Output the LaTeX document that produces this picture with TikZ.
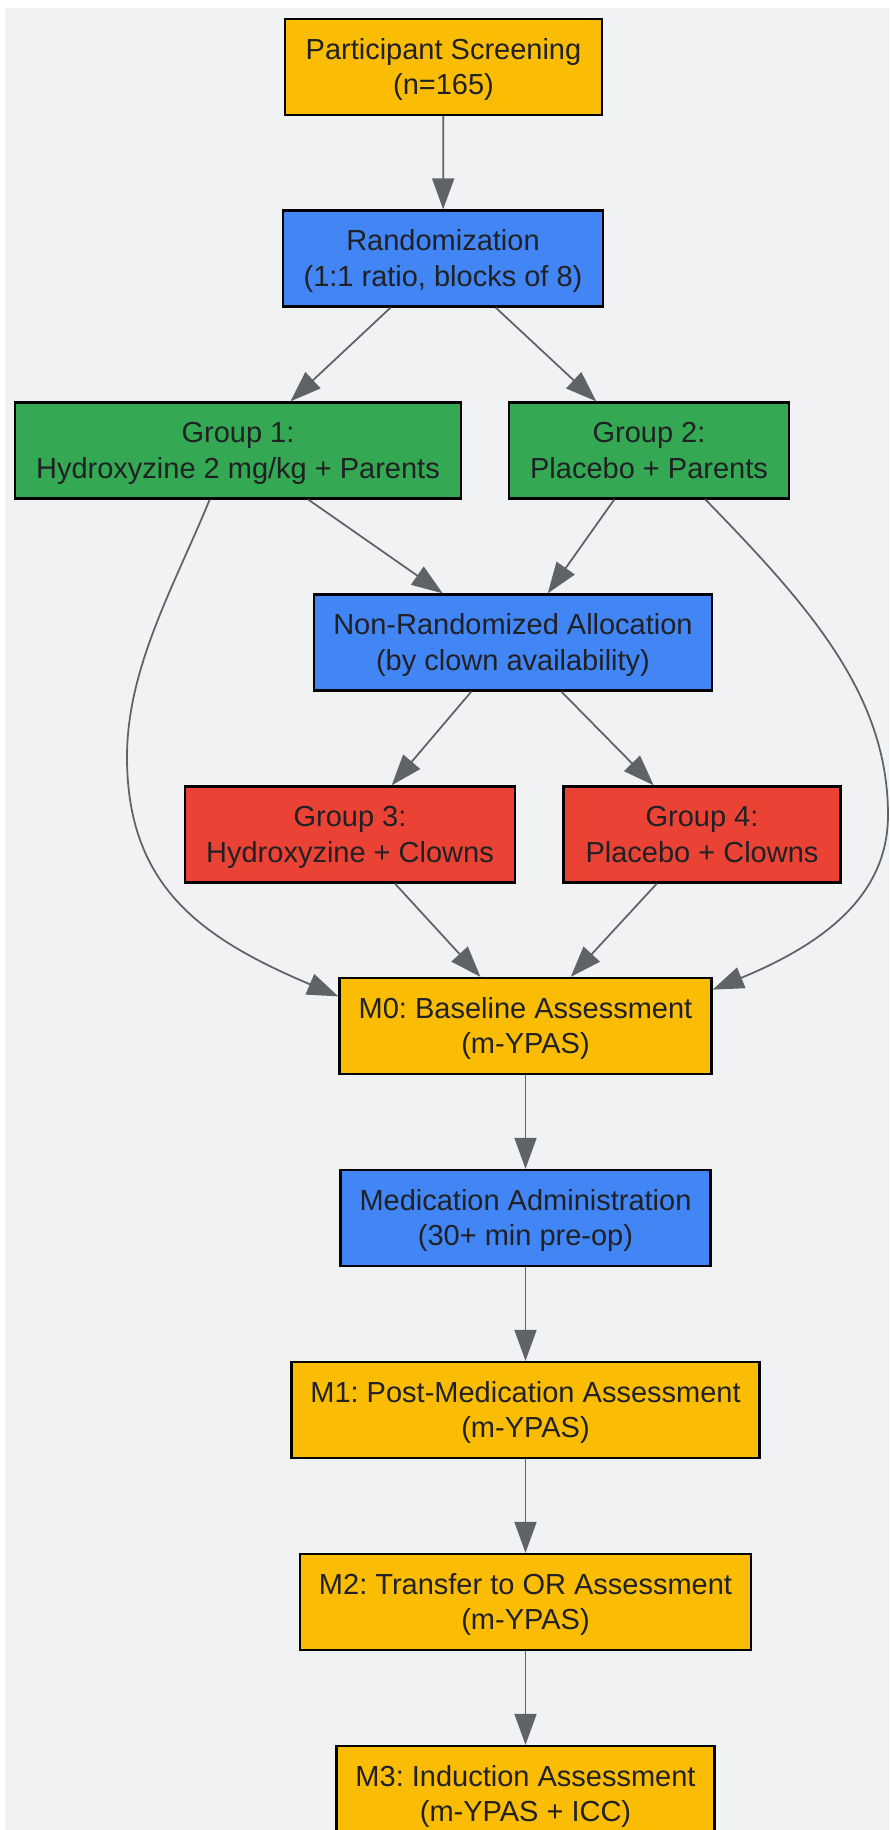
\documentclass[tikz,border=0pt]{standalone}
\usepackage{fontspec}
\setmainfont{Liberation Sans}
\usepackage{tikz}
\usetikzlibrary{arrows.meta}

\definecolor{bg}{HTML}{F1F2F4}
\definecolor{gyellow}{HTML}{FBBC04}
\definecolor{gblue}{HTML}{4285F4}
\definecolor{ggreen}{HTML}{34A853}
\definecolor{gred}{HTML}{EA4335}
\definecolor{txt}{HTML}{202124}
\definecolor{edge}{HTML}{5F6368}

\begin{document}
\begin{tikzpicture}[>={Triangle[length=0.62cm,width=0.44cm]},
    box/.style={rectangle, draw=black, line width=1.3pt, text=txt, align=center,
        minimum height=1.92cm, inner sep=0pt, font=\fontsize{16.5}{20.4}\selectfont\frenchspacing,
        text height=36.3pt, text depth=4.5pt},
    flow/.style={->, draw=edge, fill=edge, line width=1pt}]

    % Canvas with the white margin on top and left
    \useasboundingbox (0,0) rectangle (17.78,-36.6);
    \fill[bg] (0.1,-0.16) rectangle (17.78,-36.6);

    % Define the nodes
    \node[box, fill=gyellow, minimum width=6.34cm] (screen) at (8.87,-1.34) {Participant Screening\\(n=165)};
    \node[box, fill=gblue, minimum width=6.39cm] (rand) at (8.86,-5.17) {Randomization\\(1:1 ratio, blocks of 8)};
    \node[box, fill=ggreen, minimum width=8.92cm] (grp1) at (4.76,-9.01) {Group 1:\\Hydroxyzine 2 mg/kg + Parents};
    \node[box, fill=ggreen, minimum width=5.61cm] (grp2) at (12.98,-9.01) {Group 2:\\Placebo + Parents};
    \node[box, fill=gblue, minimum width=7.97cm] (alloc) at (10.26,-12.85) {Non-Randomized Allocation\\(by clown availability)};
    \node[box, fill=gred, minimum width=6.6cm] (grp3) at (7.0,-16.69) {Group 3:\\Hydroxyzine + Clowns};
    \node[box, fill=gred, minimum width=5.54cm] (grp4) at (14.04,-16.69) {Group 4:\\Placebo + Clowns};
    \node[box, fill=gyellow, minimum width=7.44cm] (m0) at (10.51,-20.52) {M0: Baseline Assessment\\(m-YPAS)};
    \node[box, fill=gblue, minimum width=7.4cm] (med) at (10.51,-24.36) {Medication Administration\\(30+ min pre-op)};
    \node[box, fill=gyellow, minimum width=9.36cm] (m1) at (10.51,-28.2) {M1: Post-Medication Assessment\\(m-YPAS)};
    \node[box, fill=gyellow, minimum width=9.03cm] (m2) at (10.51,-32.04) {M2: Transfer to OR Assessment\\(m-YPAS)};
    \node[box, fill=gyellow, minimum width=7.56cm] (m3) at (10.51,-35.88) {M3: Induction Assessment\\(m-YPAS + ICC)};

    % Straight arrows
    \draw[flow] (screen) -- (rand);
    \draw[flow] (rand) -- (grp1);
    \draw[flow] (rand) -- (grp2);
    \draw[flow] (grp1) -- (alloc);
    \draw[flow] (grp2) -- (alloc);
    \draw[flow] (alloc) -- (grp3);
    \draw[flow] (alloc) -- (grp4);
    \draw[flow] (grp3) -- (m0);
    \draw[flow] (grp4) -- (m0);
    \draw[flow] (m0) -- (med);
    \draw[flow] (med) -- (m1);
    \draw[flow] (m1) -- (m2);
    \draw[flow] (m2) -- (m3);

    % Long bends around the clown groups
    \draw[->, draw=edge, line width=1pt] (grp1.240) .. controls (3.5,-11.69) and (2.54,-13.34) .. (2.54,-15.14)
        .. controls (2.54,-17.74) and (4.04,-18.77) .. (m0.171);
    \draw[->, draw=edge, line width=1pt] (grp2.-41) .. controls (16.2,-12.14) and (17.76,-13.9) .. (17.76,-16.3)
        .. controls (17.76,-17.9) and (16.49,-18.87) .. (m0.11.5);
\end{tikzpicture}
\end{document}
